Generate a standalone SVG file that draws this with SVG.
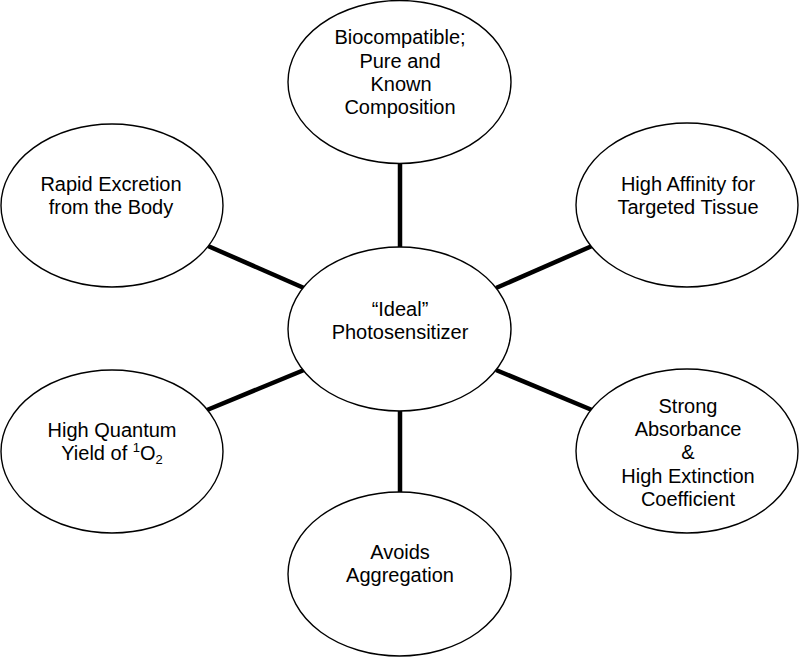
<svg xmlns="http://www.w3.org/2000/svg" width="799" height="657" viewBox="0 0 799 657">
<style>
.node ellipse{fill:#fff;stroke:#000;stroke-width:1.4}
.node text{font-family:"Liberation Sans",Arial,sans-serif;font-size:20px;fill:#000;text-anchor:middle}
#connectors line{stroke:#000;stroke-width:4.5}
.sm{font-size:13px}
</style>
<rect width="799" height="657" fill="#fff"/>
<g id="connectors">
<line x1="400" y1="164" x2="400" y2="247"/>
<line x1="400" y1="411" x2="400" y2="492"/>
<line x1="208" y1="246" x2="304" y2="288"/>
<line x1="496" y1="288" x2="592" y2="246"/>
<line x1="304" y1="370" x2="207" y2="410"/>
<line x1="496" y1="370" x2="592" y2="410"/>
</g>
<g id="center" class="node">
<ellipse cx="399.5" cy="329" rx="111.5" ry="82"/>
<text x="400" y="316">“Ideal”</text>
<text x="400" y="339">Photosensitizer</text>
</g>
<g id="top" class="node">
<ellipse cx="399.5" cy="82" rx="111.5" ry="81.5"/>
<text x="400" y="44">Biocompatible;</text>
<text x="400" y="68">Pure and</text>
<text x="401" y="91">Known</text>
<text x="400" y="114">Composition</text>
</g>
<g id="upper-left" class="node">
<ellipse cx="112" cy="205.5" rx="111" ry="81.5"/>
<text x="111" y="191">Rapid Excretion</text>
<text x="111" y="214">from the Body</text>
</g>
<g id="upper-right" class="node">
<ellipse cx="687" cy="205" rx="111" ry="82"/>
<text x="688" y="191">High Affinity for</text>
<text x="688" y="214">Targeted Tissue</text>
</g>
<g id="lower-left" class="node">
<ellipse cx="112" cy="451.5" rx="111" ry="81.5"/>
<text x="112" y="437">High Quantum</text>
<text x="112" y="460">Yield of <tspan class="sm" dy="-8">1</tspan><tspan dy="8">O</tspan><tspan class="sm" dy="4">2</tspan></text>
</g>
<g id="lower-right" class="node">
<ellipse cx="687" cy="451" rx="111" ry="82"/>
<text x="688" y="413">Strong</text>
<text x="688" y="436">Absorbance</text>
<text x="688" y="459">&amp;</text>
<text x="688" y="483">High Extinction</text>
<text x="688" y="506">Coefficient</text>
</g>
<g id="bottom" class="node">
<ellipse cx="399.5" cy="574" rx="111.5" ry="82"/>
<text x="400" y="559">Avoids</text>
<text x="400" y="582">Aggregation</text>
</g>
</svg>
